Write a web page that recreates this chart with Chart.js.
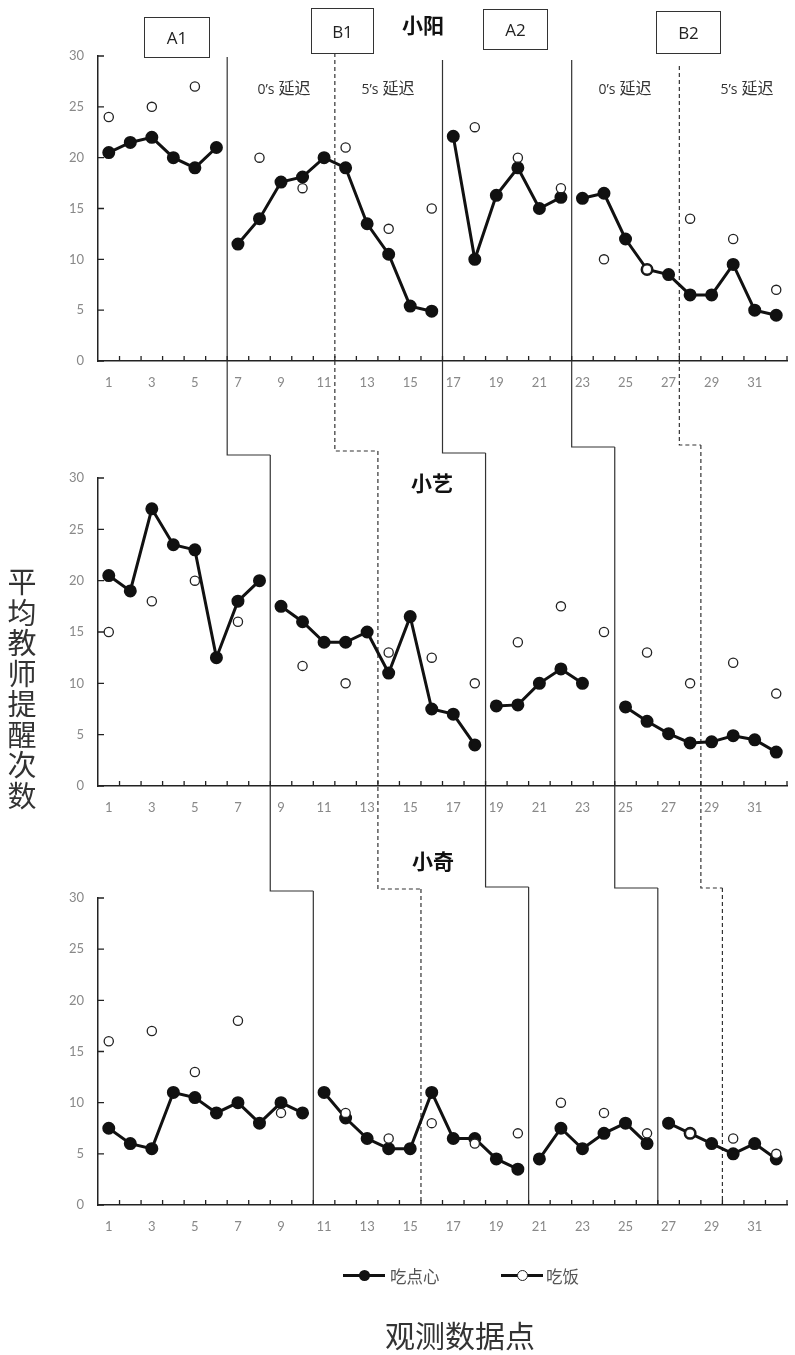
<!DOCTYPE html>
<html>
<head>
<meta charset="utf-8">
<script src="https://cdn.jsdelivr.net/npm/chart.js@4.4.0/dist/chart.umd.min.js"></script>
<style>
  body { margin: 0; background: #fff; }
  #wrap { position: relative; width: 795px; height: 1355px; overflow: hidden; font-family: "Noto Sans CJK SC", sans-serif; color: #222; }
  canvas { position: absolute; left: 0; top: 0; pointer-events: none; }
  .t { position: absolute; white-space: nowrap; transform: translate(-50%, -50%); line-height: 1; }
  .name { font-size: 21px; font-weight: bold; color: #111; }
  .phase { font-size: 16px; color: #333; font-family: "Open Sans", "Noto Sans CJK SC", sans-serif; }
  .box { position: absolute; border: 1.5px solid #333; box-sizing: border-box; display: flex; align-items: center; justify-content: center; font-family: "Open Sans", sans-serif; font-size: 17px; color: #222; }
  #ytitle { position: absolute; left: 7px; top: 565px; width: 30px; font-size: 29px; line-height: 30.5px; text-align: center; color: #333; }
  .lgline { position: absolute; height: 3px; background: #111; }
  .lgdot { position: absolute; width: 11px; height: 11px; border-radius: 50%; box-sizing: border-box; }
  .lgtext { position: absolute; font-size: 16.5px; color: #555; transform: translateY(-50%); line-height: 1; }
</style>
</head>
<body>
<div id="wrap">
  <canvas id="c1" width="795" height="1355"></canvas>
  <canvas id="c2" width="795" height="1355"></canvas>
  <canvas id="c3" width="795" height="1355"></canvas>

  <div class="box" style="left:144px;top:17px;width:66px;height:41px;">A1</div>
  <div class="box" style="left:311px;top:8px;width:63px;height:46px;">B1</div>
  <div class="box" style="left:483px;top:9px;width:65px;height:41px;">A2</div>
  <div class="box" style="left:656px;top:11px;width:65px;height:43px;">B2</div>

  <div class="t name" style="left:423px;top:24px;">小阳</div>
  <div class="t name" style="left:432px;top:482px;">小艺</div>
  <div class="t name" style="left:433px;top:860px;">小奇</div>

  <div class="t phase" style="left:284px;top:88px;"><span style="font-size:14px">0’s</span> 延迟</div>
  <div class="t phase" style="left:388px;top:88px;"><span style="font-size:14px">5’s</span> 延迟</div>
  <div class="t phase" style="left:625px;top:88px;"><span style="font-size:14px">0’s</span> 延迟</div>
  <div class="t phase" style="left:747px;top:88px;"><span style="font-size:14px">5’s</span> 延迟</div>

  <div id="ytitle">平<br>均<br>教<br>师<br>提<br>醒<br>次<br>数</div>

  <div class="lgline" style="left:343px;top:1274px;width:42px;"></div>
  <div class="lgdot" style="left:359px;top:1270px;background:#111;"></div>
  <div class="lgtext" style="left:390px;top:1276px;">吃点心</div>
  <div class="lgline" style="left:501px;top:1274px;width:42px;"></div>
  <div class="lgdot" style="left:517px;top:1270px;background:#fff;border:1.4px solid #222;"></div>
  <div class="lgtext" style="left:546px;top:1276px;">吃饭</div>

  <div class="t" style="left:460px;top:1334px;font-size:30px;color:#333;">观测数据点</div>
</div>

<script>
const sessions = [1, 2, 3, 4, 5, 6, 7, 8, 9, 10, 11, 12, 13, 14, 15, 16,
                  17, 18, 19, 20, 21, 22, 23, 24, 25, 26, 27, 28, 29, 30, 31, 32];
const xTickLabels = [1, 3, 5, 7, 9, 11, 13, 15, 17, 19, 21, 23, 25, 27, 29, 31];
const yTickLabels = [0, 5, 10, 15, 20, 25, 30];
const seriesNames = ['吃点心', '吃饭'];

// 小阳
const yangSnack = [20.5, 21.5, 22, 20, 19, 21,
                   11.5, 14, 17.6, 18.1, 20, 19, 13.5, 10.5, 5.4, 4.9,
                   22.1, 10, 16.3, 19, 15, 16.1,
                   16, 16.5, 12, 9, 8.5, 6.5, 6.5, 9.5, 5, 4.5];
const yangMeal = [24, null, 25, null, 27, null,
                  null, 20, null, 17, null, 21, null, 13, null, 15,
                  null, 23, null, 20, null, 17,
                  null, 10, null, 9, null, 14, null, 12, null, 7];
const yangPhases = [6.5, 11.5, 16.5, 22.5, 27.5];

// 小艺
const yiSnack = [20.5, 19, 27, 23.5, 23, 12.5, 18, 20,
                 17.5, 16, 14, 14, 15, 11, 16.5, 7.5, 7, 4,
                 7.8, 7.9, 10, 11.4, 10, null,
                 7.7, 6.3, 5.1, 4.2, 4.3, 4.9, 4.5, 3.3];
const yiMeal = [15, null, 18, null, 20, null, 16, null,
                null, 11.7, null, 10, null, 13, null, 12.5, null, 10,
                null, 14, null, 17.5, null, 15,
                null, 13, null, 10, null, 12, null, 9];
const yiPhases = [8.5, 13.5, 18.5, 24.5, 28.5];

// 小奇
const qiSnack = [7.5, 6, 5.5, 11, 10.5, 9, 10, 8, 10, 9,
                 11, 8.5, 6.5, 5.5, 5.5, 11, 6.5, 6.5, 4.5, 3.5,
                 4.5, 7.5, 5.5, 7, 8, 6,
                 8, 7, 6, 5, 6, 4.5];
const qiMeal = [16, null, 17, null, 13, null, 18, null, 9, null,
                null, 9, null, 6.5, null, 8, null, 6, null, 7,
                null, 10, null, 9, null, 7,
                null, 7, null, 6.5, null, 5];
const qiPhases = [10.5, 15.5, 20.5, 26.5, 29.5];

// which phase boundaries are the dashed 0's/5's delay changes
const phaseDashed = [false, true, false, false, true];

const H = 1355;
const AXIS_LEFT = 98;
const XAXIS_H = 40;

const phasePlugin = {
  id: 'phases',
  beforeDatasetsDraw(chart, args, opts) {
    const {ctx} = chart;
    const x = chart.scales.x;
    ctx.save();
    ctx.strokeStyle = '#333';
    ctx.lineWidth = 1.2;
    opts.bounds.forEach((b, i) => {
      const px = x.getPixelForValue(b);
      ctx.setLineDash(phaseDashed[i] ? [4, 3] : []);
      ctx.beginPath();
      ctx.moveTo(px, opts.top[i]);
      ctx.lineTo(px, opts.bottom[i]);
      if (opts.next) ctx.lineTo(x.getPixelForValue(opts.next[i]), opts.bottom[i]);
      ctx.stroke();
    });
    ctx.restore();
  },
  afterDatasetsDraw(chart) {
    // small tick marks pointing into the plot
    const {ctx} = chart;
    const x = chart.scales.x, y = chart.scales.y;
    ctx.save();
    ctx.strokeStyle = '#222';
    ctx.lineWidth = 1.3;
    ctx.beginPath();
    yTickLabels.forEach(v => {
      const py = y.getPixelForValue(v);
      ctx.moveTo(x.left, py);
      ctx.lineTo(x.left + 6, py);
    });
    sessions.forEach(s => {
      const px = x.getPixelForValue(s + 0.5);
      ctx.moveTo(px, y.bottom);
      ctx.lineTo(px, y.bottom - 5);
    });
    ctx.stroke();
    ctx.restore();
  }
};

function makePanel(id, snack, meal, phases, top, bottom, lineTop, lineBottom, next) {
  const solid = phases.filter((b, i) => !phaseDashed[i]);
  const pts = arr => sessions.map((s, i) => ({x: s, y: arr[i]}));
  return new Chart(document.getElementById(id), {
    type: 'line',
    data: {
      datasets: [
        {
          label: seriesNames[1],
          data: pts(meal),
          showLine: false,
          pointRadius: 4.6,
          pointBackgroundColor: '#fff',
          pointBorderColor: '#222',
          pointBorderWidth: 1.3,
          order: 0
        },
        {
          label: seriesNames[0],
          data: pts(snack),
          borderColor: '#111',
          borderWidth: 3,
          pointRadius: 5,
          pointBackgroundColor: '#111',
          pointBorderColor: '#111',
          spanGaps: false,
          order: 1,
          segment: {
            borderColor: c => solid.some(b => c.p0.parsed.x < b && c.p1.parsed.x > b) ? 'rgba(0,0,0,0)' : undefined
          }
        }
      ]
    },
    options: {
      responsive: false,
      animation: false,
      devicePixelRatio: 1,
      layout: { padding: { left: 0, right: 0, top: top, bottom: H - bottom - XAXIS_H } },
      plugins: {
        legend: { display: false },
        tooltip: { enabled: false },
        phases: { bounds: phases, top: lineTop, bottom: lineBottom, next: next }
      },
      scales: {
        x: {
          type: 'linear',
          min: 0.5,
          max: 32.5,
          afterBuildTicks: s => { s.ticks = xTickLabels.map(v => ({value: v})); },
          afterFit: s => { s.height = XAXIS_H; },
          grid: { display: false, drawTicks: false },
          border: { display: true, color: '#222', width: 1.5 },
          ticks: { color: '#888', font: { family: 'Lato', size: 13 }, padding: 14, maxRotation: 0, autoSkip: false }
        },
        y: {
          min: 0,
          max: 30,
          afterBuildTicks: s => { s.ticks = yTickLabels.map(v => ({value: v})); },
          afterFit: s => { s.width = AXIS_LEFT; },
          grid: { display: false, drawTicks: false },
          border: { display: true, color: '#222', width: 1.5 },
          ticks: { color: '#888', font: { family: 'Lato', size: 13 }, padding: 14 }
        }
      }
    },
    plugins: [phasePlugin]
  });
}

const gap1 = [455, 451, 453, 447, 445];
const gap2 = [891, 889, 887, 888, 888];
const axis3 = [1205, 1205, 1205, 1205, 1205];

makePanel('c1', yangSnack, yangMeal, yangPhases, 56, 361, [57, 53, 60, 60, 66], gap1, yiPhases);
makePanel('c2', yiSnack, yiMeal, yiPhases, 478, 786, gap1, gap2, qiPhases);
makePanel('c3', qiSnack, qiMeal, qiPhases, 898, 1205, gap2, axis3, null);
</script>
</body>
</html>
